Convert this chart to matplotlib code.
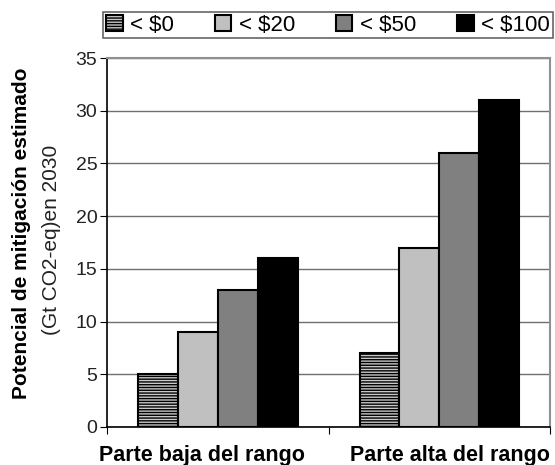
import matplotlib.pyplot as plt
import matplotlib.transforms as mtransforms
import numpy as np

plt.rcParams['font.family'] = ['Liberation Sans', 'DejaVu Sans']
plt.rcParams['hatch.linewidth'] = 1.0

categories = ["Parte baja del rango", "Parte alta del rango"]
series = ["< $0", "< $20", "< $50", "< $100"]
low = [5, 9, 13, 16]
high = [7, 17, 26, 31]

colors = ['#c8c8c8', '#c0c0c0', '#808080', '#000000']
hatches = ['------', None, None, None]

fig = plt.figure(figsize=(5.55, 4.65), dpi=100)
ax = fig.add_axes([0.193, 0.082, 0.798, 0.793])

x = np.arange(len(categories))
w = 0.18
for i, name in enumerate(series):
    vals = [low[i], high[i]]
    ax.bar(x + (i - 1.5) * w, vals, w, color=colors[i], edgecolor='black',
           linewidth=1.5, hatch=hatches[i], label=name, zorder=3)

ax.set_xlim(-0.5, 1.5)
ax.set_ylim(0, 35)
ax.set_yticks(range(0, 36, 5))
ax.yaxis.grid(True, color='#707070', linewidth=1.0, zorder=0)

# category boundaries get the tick marks, names are placed under each group
ax.set_xticks([-0.5, 0.5, 1.5])
ax.set_xticklabels([])
ax.tick_params(axis='x', length=5, direction='out', color='black')
ax.tick_params(axis='y', length=5, direction='out', labelsize=14, pad=2,
               colors='black', labelcolor='#222222')

shifts = [-16, 11]
for xi, name, dx in zip(x, categories, shifts):
    tr = mtransforms.blended_transform_factory(ax.transData, ax.transAxes)
    tr = tr + mtransforms.ScaledTranslation(dx / 100, 0, fig.dpi_scale_trans)
    ax.text(xi, -0.05, name, transform=tr, ha='center', va='top',
            fontsize=15.5, fontweight='bold')

for s in ['top', 'right']:
    ax.spines[s].set_color('#909090')
    ax.spines[s].set_linewidth(1.5)
for s in ['left', 'bottom']:
    ax.spines[s].set_color('black')
    ax.spines[s].set_linewidth(1.2)

fig.text(0.038, 0.499, "Potencial de mitigación estimado", rotation=90,
         ha='center', va='center', fontsize=15, fontweight='bold')
fig.text(0.093, 0.484, "(Gt CO2-eq)en 2030", rotation=90,
         ha='center', va='center', fontsize=15, color='#222222')

leg = fig.legend(loc='upper left', bbox_to_anchor=(0.186, 0.918, 0.81, 0.056),
                 mode='expand', ncol=4, fontsize=16, frameon=True, fancybox=False,
                 handlelength=0.75, handleheight=0.75, handletextpad=0.35,
                 borderpad=0.12, columnspacing=1.0, borderaxespad=0)
leg.get_frame().set_edgecolor('#404040')
leg.get_frame().set_linewidth(1.2)

fig.savefig('out.png', dpi=100)
